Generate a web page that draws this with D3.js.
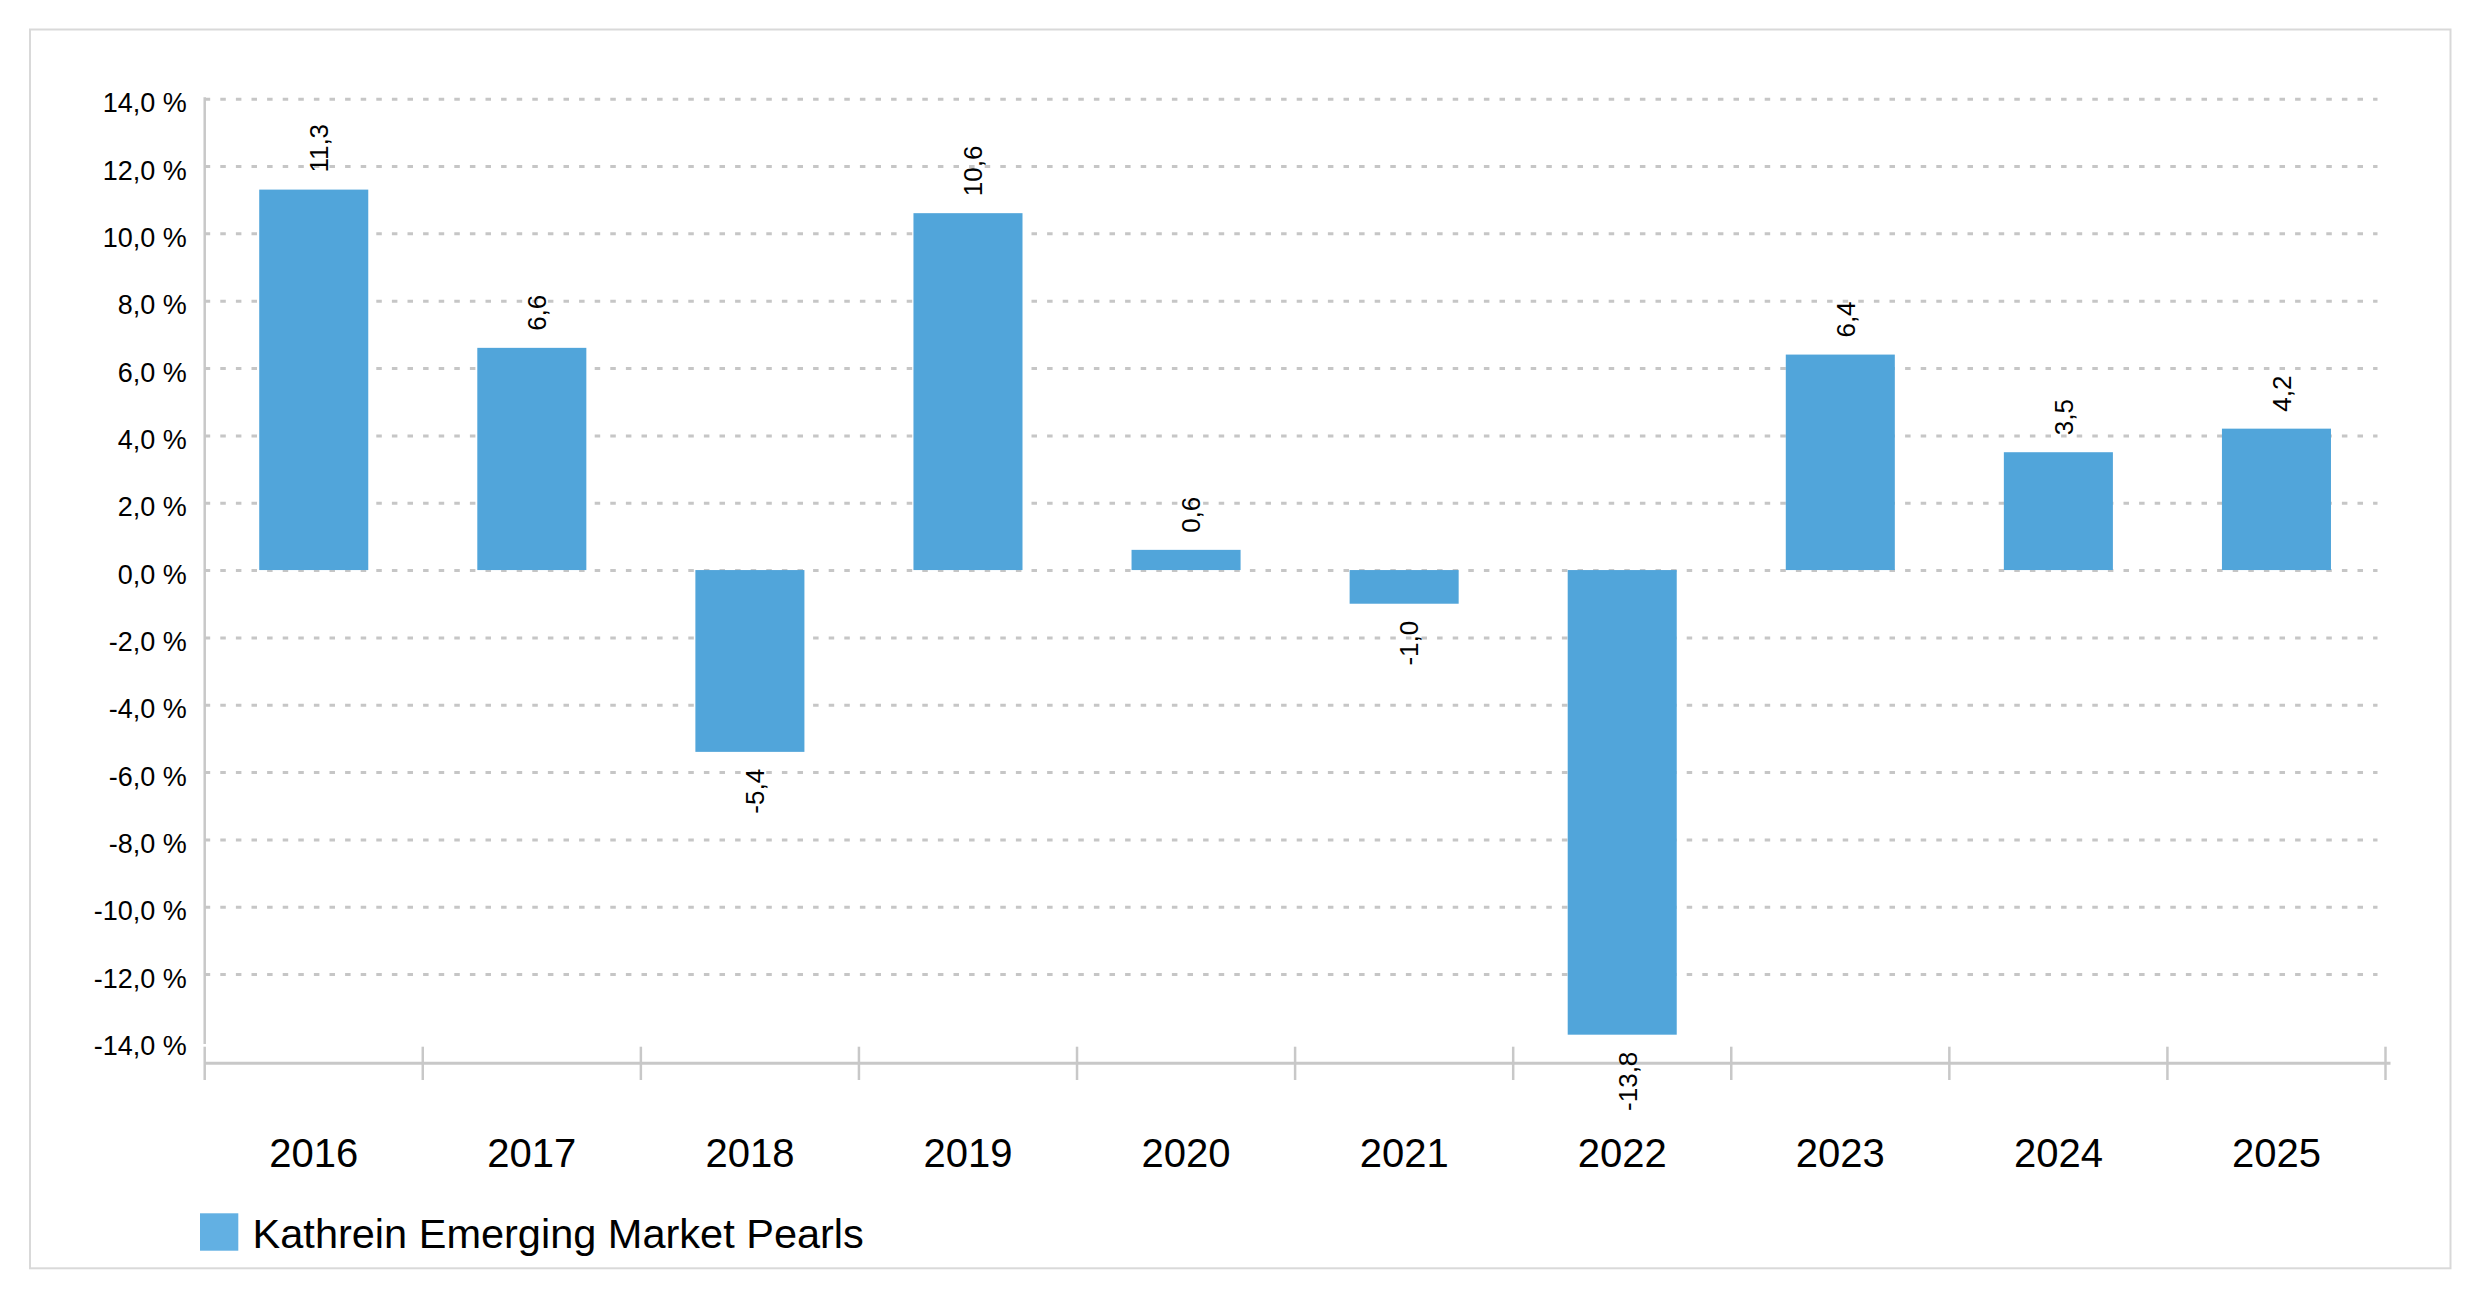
<!DOCTYPE html>
<html>
<head>
<meta charset="utf-8">
<script src="https://cdn.jsdelivr.net/npm/d3@7/dist/d3.min.js"></script>
<style>
html,body{margin:0;padding:0;background:#fff;}
svg{display:block;font-family:"Liberation Sans",Arial,Helvetica,sans-serif;}
</style>
</head>
<body>
<svg id="chart" width="2480" height="1299"></svg>
<script>
const categories = ["2016","2017","2018","2019","2020","2021","2022","2023","2024","2025"];
const values = [11.3, 6.6, -5.4, 10.6, 0.6, -1.0, -13.8, 6.4, 3.5, 4.2];
const yTicks = [-14,-12,-10,-8,-6,-4,-2,0,2,4,6,8,10,12,14];
const gridTicks = [-12,-10,-8,-6,-4,-2,0,2,4,6,8,10,12,14];
const seriesName = "Kathrein Emerging Market Pearls";

(function(){
const svg = d3.select("#chart");
const plotL = 204.7, plotR = 2385.5, plotT = 98.7, axisY = 1063.3;

// frame
svg.append("rect").attr("x",30).attr("y",29.5).attr("width",2420.5).attr("height",1238.8)
  .attr("fill","#fff").attr("stroke","#d9d9d9").attr("stroke-width",2);

const x = d3.scaleBand().domain(categories).range([plotL,plotR]).paddingInner(0.5).paddingOuter(0.25);
const y = d3.scaleLinear().domain([-14.65,14]).range([axisY, plotT]);

const fmt = v => v.toFixed(1).replace(".",",");

// gridlines
const grid = svg.append("g").attr("transform",`translate(${plotL},0)`)
  .call(d3.axisLeft(y).tickValues(gridTicks).tickSize(-(plotR-8-plotL)).tickFormat(""));
grid.select(".domain").remove();
grid.selectAll(".tick line").attr("stroke","#c6c6c6").attr("stroke-width",3)
  .attr("stroke-dasharray","5.5 10.1");

// y tick labels
const yAx = svg.append("g").attr("transform",`translate(${plotL},0)`)
  .call(d3.axisLeft(y).tickValues(yTicks).tickSize(0).tickPadding(18).tickFormat(d => fmt(d) + " %"));
yAx.select(".domain").remove();
yAx.selectAll(".tick text").attr("font-size",27).attr("fill","#000")
  .attr("font-family","'Liberation Sans',Arial,sans-serif").attr("dy",13);

// bars
svg.append("g").selectAll("rect").data(values).join("rect")
  .attr("x",(d,i)=>x(categories[i]))
  .attr("width",x.bandwidth())
  .attr("y",d=>y(Math.max(0,d)))
  .attr("height",d=>Math.abs(y(d)-y(0)))
  .attr("fill","#51a5da");

// y axis line
svg.append("line").attr("x1",plotL).attr("x2",plotL).attr("y1",y(14)-1.5).attr("y2",1044)
  .attr("stroke","#c8c8c8").attr("stroke-width",2.5);

// x axis line + boundary ticks
const boundaries = d3.range(categories.length+1);
const bx = d3.scaleLinear().domain([0,categories.length]).range([plotL,plotR]);
svg.append("line").attr("x1",plotL).attr("x2",plotR+5).attr("y1",axisY).attr("y2",axisY)
  .attr("stroke","#c8c8c8").attr("stroke-width",3);
svg.append("g").selectAll("line").data(boundaries).join("line")
  .attr("x1",d=>bx(d)).attr("x2",d=>bx(d)).attr("y1",axisY-16.6).attr("y2",axisY+16.7)
  .attr("stroke","#c8c8c8").attr("stroke-width",2.5);

// x labels
const xAx = svg.append("g").attr("transform",`translate(0,${axisY})`)
  .call(d3.axisBottom(x).tickSize(0).tickPadding(0));
xAx.select(".domain").remove();
xAx.selectAll(".tick text").attr("font-size",40).attr("fill","#000")
  .attr("font-family","'Liberation Sans',Arial,sans-serif").attr("dy",0).attr("y",103.4);

// value labels
svg.append("g").selectAll("text").data(values).join("text")
  .attr("transform",(d,i)=>{
    const cx = x(categories[i]) + x.bandwidth()/2;
    const ty = d >= 0 ? y(d) - 17 : y(d) + 17;
    return `translate(${cx},${ty}) rotate(-90)`;
  })
  .attr("text-anchor",d=> d>=0 ? "start" : "end")
  .attr("dy","0.55em")
  .attr("font-size",26).attr("fill","#000")
  .text(d=>fmt(d));

// legend
const lg = svg.append("g");
lg.append("rect").attr("x",200).attr("y",1213.3).attr("width",38.3).attr("height",37.4).attr("fill","#62b0e3");
lg.append("text").attr("x",252.6).attr("y",1248.3).attr("font-size",41.5).attr("fill","#000").text(seriesName);
})();
</script>
</body>
</html>
